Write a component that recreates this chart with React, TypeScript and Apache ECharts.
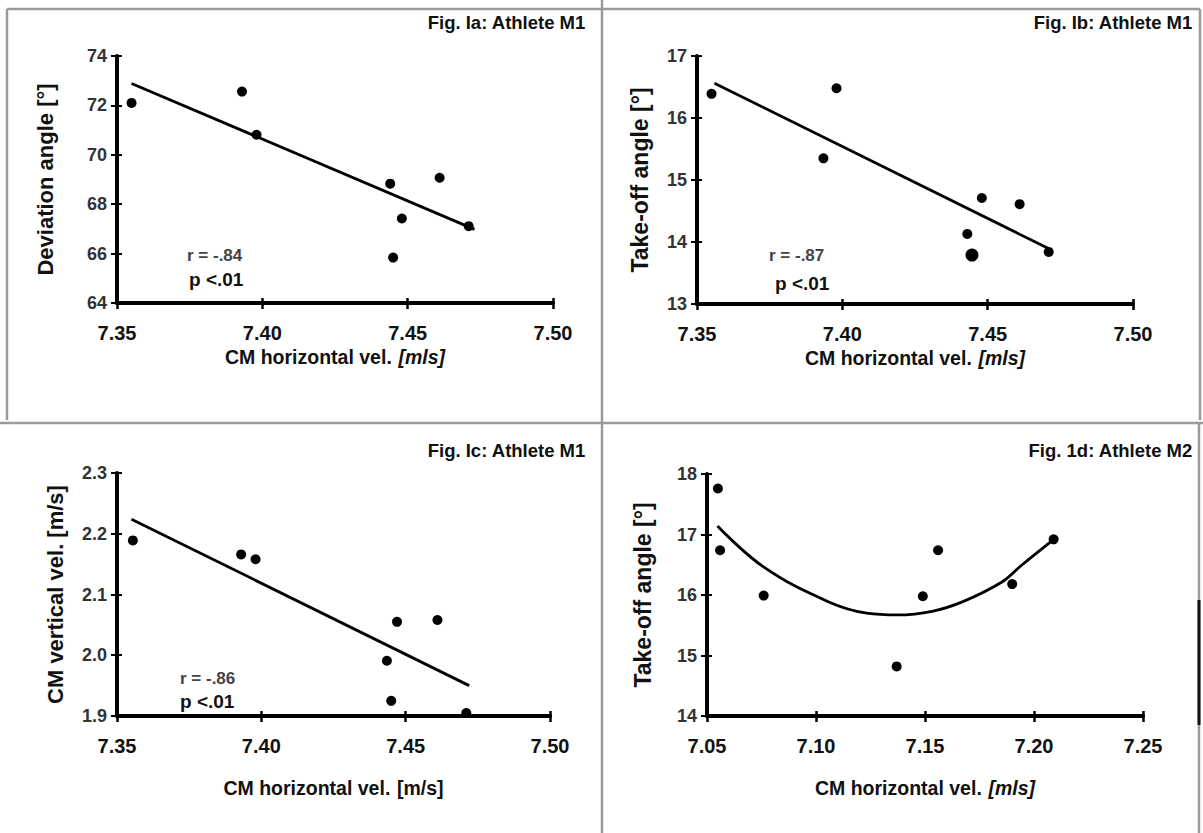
import React, { useEffect, useRef } from "react";
import * as echarts from "echarts";

// Panel a: deviation angle vs CM horizontal velocity (Athlete M1)
const aX = [7.355, 7.393, 7.398, 7.444, 7.461, 7.448, 7.471, 7.445];
const aY = [72.1, 72.56, 70.81, 68.83, 69.07, 67.42, 67.11, 65.84];
const aFitX = [7.355, 7.473];
const aFitY = [72.89, 66.98];

// Panel b: take-off angle vs CM horizontal velocity (Athlete M1)
const bX = [7.355, 7.398, 7.3935, 7.448, 7.461, 7.443, 7.471];
const bY = [16.39, 16.48, 15.35, 14.71, 14.61, 14.13, 13.84];
const bBigX = [7.4446];
const bBigY = [13.79];
const bFitX = [7.356, 7.472];
const bFitY = [16.56, 13.87];

// Panel c: CM vertical velocity vs CM horizontal velocity (Athlete M1)
const cX = [7.3555, 7.393, 7.398, 7.447, 7.461, 7.4435, 7.445, 7.471];
const cY = [2.189, 2.166, 2.158, 2.055, 2.058, 1.991, 1.925, 1.905];
const cFitX = [7.355, 7.472];
const cFitY = [2.224, 1.95];

// Panel d: take-off angle vs CM horizontal velocity (Athlete M2)
const dX = [7.055, 7.056, 7.076, 7.137, 7.149, 7.156, 7.19, 7.209];
const dY = [17.76, 16.74, 15.99, 14.82, 15.98, 16.74, 16.18, 16.92];
const dCurveX = [7.0548, 7.0761, 7.1056, 7.1233, 7.1374, 7.1533, 7.1674, 7.1851, 7.1939, 7.2098];
const dCurveY = [17.14, 16.46, 15.89, 15.7, 15.67, 15.73, 15.89, 16.21, 16.48, 16.94];

const titles = ["Fig. Ia: Athlete M1", "Fig. Ib: Athlete M1", "Fig. Ic: Athlete M1", "Fig. 1d: Athlete M2"];
const yNames = ["Deviation angle [°]", "Take-off angle [°]", "CM vertical vel. [m/s]", "Take-off angle [°]"];
const xUnits = ["[mls]", "[mls]", "[m/s]", "[mls]"];
const xMins = [7.35, 7.35, 7.35, 7.05];
const xMaxs = [7.5, 7.5, 7.5, 7.25];
const yMins = [64, 13, 1.9, 14];
const yMaxs = [74, 17, 2.3, 18];
const yIntervals = [2, 1, 0.1, 1];
const yDecimals = [0, 0, 1, 0];
const statR = ["r = -.84", "r = -.87", "r = -.86"];
const statP = ["p <.01", "p <.01", "p <.01"];

const FONT = "Liberation Sans, Arial, sans-serif";

const zip = (xs: number[], ys: number[]) => xs.map((x, i) => [x, ys[i]]);

export default function App() {
  const ref = useRef<HTMLDivElement>(null);
  useEffect(() => {
    document.body.style.margin = "0";
    const chart = echarts.init(ref.current!, null, { renderer: "svg" });
    const grids = [
      { left: 117, top: 56, width: 436, height: 247 },
      { left: 697, top: 56, width: 436, height: 248 },
      { left: 117, top: 473, width: 433, height: 243 },
      { left: 707, top: 474, width: 436, height: 242 },
    ];
    const yNameSizes = [22, 23, 22, 23];
    const yNameGaps = [61, 46, 51, 53];
    const xNameGaps = [44, 44, 62, 62];
    const xAxes: any[] = [];
    const yAxes: any[] = [];
    grids.forEach((g, i) => {
      xAxes.push({
        gridIndex: i,
        type: "value",
        position: "bottom",
        min: xMins[i],
        max: xMaxs[i],
        interval: 0.05,
        splitLine: { show: false },
        axisLine: { show: true, onZero: false, lineStyle: { color: "#000", width: 4 } },
        axisTick: { length: 6, lineStyle: { color: "#000", width: 2.5 } },
        axisLabel: {
          formatter: (v: number) => v.toFixed(2),
          color: "#111",
          fontFamily: FONT,
          fontWeight: "bold",
          fontSize: 20,
          margin: 20,
        },
        name: `{n|CM horizontal vel.}  {i|${xUnits[i]}}`,
        nameLocation: "middle",
        nameGap: xNameGaps[i],
        nameTextStyle: {
          rich: {
            n: { fontFamily: FONT, fontWeight: "bold", fontSize: 19.5, color: "#111" },
            i: { fontFamily: FONT, fontWeight: "bold", fontStyle: i === 2 ? "normal" : "italic", fontSize: 19.5, color: "#111" },
          },
        },
      });
      xAxes.push({
        gridIndex: i,
        type: "value",
        position: "bottom",
        min: xMins[i],
        max: xMaxs[i],
        interval: 0.05,
        splitLine: { show: false },
        axisLine: { show: false, onZero: false },
        axisTick: { inside: true, length: 5, lineStyle: { color: "#000", width: 2.5 } },
        axisLabel: { show: false },
      });
      yAxes.push({
        gridIndex: i,
        type: "value",
        position: "left",
        min: yMins[i],
        max: yMaxs[i],
        interval: yIntervals[i],
        splitLine: { show: false },
        axisLine: { show: true, onZero: false, lineStyle: { color: "#000", width: 4 } },
        axisTick: { length: 6, lineStyle: { color: "#000", width: 2 } },
        axisLabel: {
          formatter: (v: number) => v.toFixed(yDecimals[i]),
          color: "#333",
          fontFamily: FONT,
          fontWeight: "bold",
          fontSize: 18,
          margin: 10,
        },
        name: yNames[i],
        nameLocation: "middle",
        nameGap: yNameGaps[i],
        nameTextStyle: { fontFamily: FONT, fontWeight: "bold", fontSize: yNameSizes[i], color: "#111" },
      });
      yAxes.push({
        gridIndex: i,
        type: "value",
        position: "left",
        min: yMins[i],
        max: yMaxs[i],
        interval: yIntervals[i],
        splitLine: { show: false },
        axisLine: { show: false, onZero: false },
        axisTick: { inside: true, length: 5, lineStyle: { color: "#000", width: 2 } },
        axisLabel: { show: false },
      });
    });

    const dot = (xi: number, xs: number[], ys: number[], size = 10) => ({
      type: "scatter",
      xAxisIndex: xi * 2,
      yAxisIndex: xi * 2,
      data: zip(xs, ys),
      symbol: "circle",
      symbolSize: size,
      itemStyle: { color: "#000", opacity: 1 },
      z: 5,
    });
    const line = (xi: number, xs: number[], ys: number[], smooth: boolean | number = false) => ({
      type: "line",
      xAxisIndex: xi * 2,
      yAxisIndex: xi * 2,
      data: zip(xs, ys),
      symbol: "none",
      smooth,
      lineStyle: { color: "#000", width: 2.8 },
      z: 4,
    });

    const titlePos = [
      { right: 1203 - 591, top: 8 },
      { right: 1203 - 1198, top: 8 },
      { right: 1203 - 591, top: 436 },
      { right: 1203 - 1198, top: 436 },
    ];

    const statPos = [
      { x: 187, y: 255, px: 189, py: 279 },
      { x: 769, y: 255, px: 775, py: 283 },
      { x: 180, y: 678, px: 180, py: 701 },
    ];

    const graphics: any[] = [];
    const frame = [
      [7, 9, 1200, 9],
      [7, 9, 7, 420],
      [0, 423, 1203, 423],
      [602, 0, 602, 833],
      [1200, 9, 1200, 420],
      [1199, 423, 1199, 833],
    ];
    frame.forEach(([x1, y1, x2, y2]) =>
      graphics.push({
        type: "line",
        shape: { x1, y1, x2, y2 },
        style: { stroke: "#9a9a9a", lineWidth: 2.5 },
      })
    );
    graphics.push({
      type: "line",
      shape: { x1: 1199, y1: 600, x2: 1199, y2: 725 },
      style: { stroke: "#111", lineWidth: 3 },
    });
    statPos.forEach((p, i) => {
      graphics.push({
        type: "text",
        x: p.x,
        y: p.y,
        style: { text: statR[i], fill: "#444", font: `bold 17px ${FONT}`, textVerticalAlign: "middle" },
      });
      graphics.push({
        type: "text",
        x: p.px,
        y: p.py,
        style: { text: statP[i], fill: "#111", font: `bold 19px ${FONT}`, textVerticalAlign: "middle" },
      });
    });

    chart.setOption({
      animation: false,
      backgroundColor: "#fff",
      title: titles.map((t, i) => ({
        text: t,
        right: titlePos[i].right,
        top: titlePos[i].top,
        textStyle: { fontFamily: FONT, fontWeight: "bold", fontSize: 18.5, color: "#111" },
      })),
      grid: grids,
      xAxis: xAxes,
      yAxis: yAxes,
      series: [
        dot(0, aX, aY),
        line(0, aFitX, aFitY),
        dot(1, bX, bY),
        dot(1, bBigX, bBigY, 13),
        line(1, bFitX, bFitY),
        dot(2, cX, cY),
        line(2, cFitX, cFitY),
        dot(3, dX, dY),
        line(3, dCurveX, dCurveY, 0.4),
      ],
      graphic: graphics,
    });
    return () => chart.dispose();
  }, []);
  return <div ref={ref} style={{ width: 1203, height: 833 }} />;
}
